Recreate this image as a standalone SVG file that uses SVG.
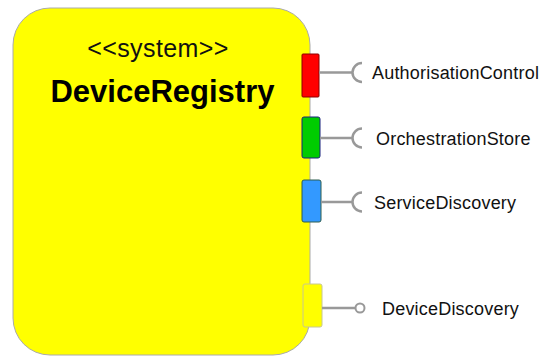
<svg xmlns="http://www.w3.org/2000/svg" width="547" height="356" viewBox="0 0 547 356">
<style>
.lbl{font-family:"Liberation Sans",Arial,sans-serif;font-size:18px;fill:#111;letter-spacing:0.2px}
.wire{stroke:#999;stroke-width:2.5;fill:none}
.port{stroke-width:1}
</style>
<rect width="547" height="356" fill="#fff"/>
<g id="DeviceRegistry">
<rect x="13" y="8" width="297" height="347" rx="37" ry="37" fill="#ffff00" stroke="#aaa" stroke-width="1"/>
<text x="158" y="57" text-anchor="middle" font-family="Liberation Sans,Arial,sans-serif" font-size="25" letter-spacing="0.4" fill="#111">&lt;&lt;system&gt;&gt;</text>
<text x="162.5" y="102" text-anchor="middle" font-family="Liberation Sans,Arial,sans-serif" font-size="31" font-weight="bold" fill="#000">DeviceRegistry</text>
</g>
<g id="port-AuthorisationControl">
<rect class="port" x="302" y="54" width="17" height="43" rx="1" fill="#ff0000" stroke="#8b0000"/>
</g>
<g id="port-OrchestrationStore">
<rect class="port" x="302" y="117" width="18" height="41" rx="2" fill="#00cc00" stroke="#1a237e"/>
</g>
<g id="port-ServiceDiscovery">
<rect class="port" x="302" y="180" width="19" height="42" rx="2" fill="#3399ff" stroke="#2e5e4e"/>
</g>
<g id="port-DeviceDiscovery">
<rect class="port" x="303" y="284" width="19" height="43" rx="2" fill="#ffff00" stroke="#c8c890"/>
</g>
<g id="connectors">
<path class="wire" d="M319 72.5 H352 M362 63 A9.5 9.5 0 0 0 362 82"/>
<path class="wire" d="M320 138 H352 M362 128.5 A9.5 9.5 0 0 0 362 147.5"/>
<path class="wire" d="M321 202 H352 M362 192.5 A9.5 9.5 0 0 0 362 211.5"/>
<path class="wire" d="M322 308 H355.5"/>
<circle cx="360" cy="308" r="4.5" fill="#fff" stroke="#999" stroke-width="2"/>
</g>
<g id="labels">
<text class="lbl" x="372" y="78.5">AuthorisationControl</text>
<text class="lbl" x="376" y="144.5">OrchestrationStore</text>
<text class="lbl" x="374" y="208.5">ServiceDiscovery</text>
<text class="lbl" x="382" y="314.5">DeviceDiscovery</text>
</g>
</svg>
